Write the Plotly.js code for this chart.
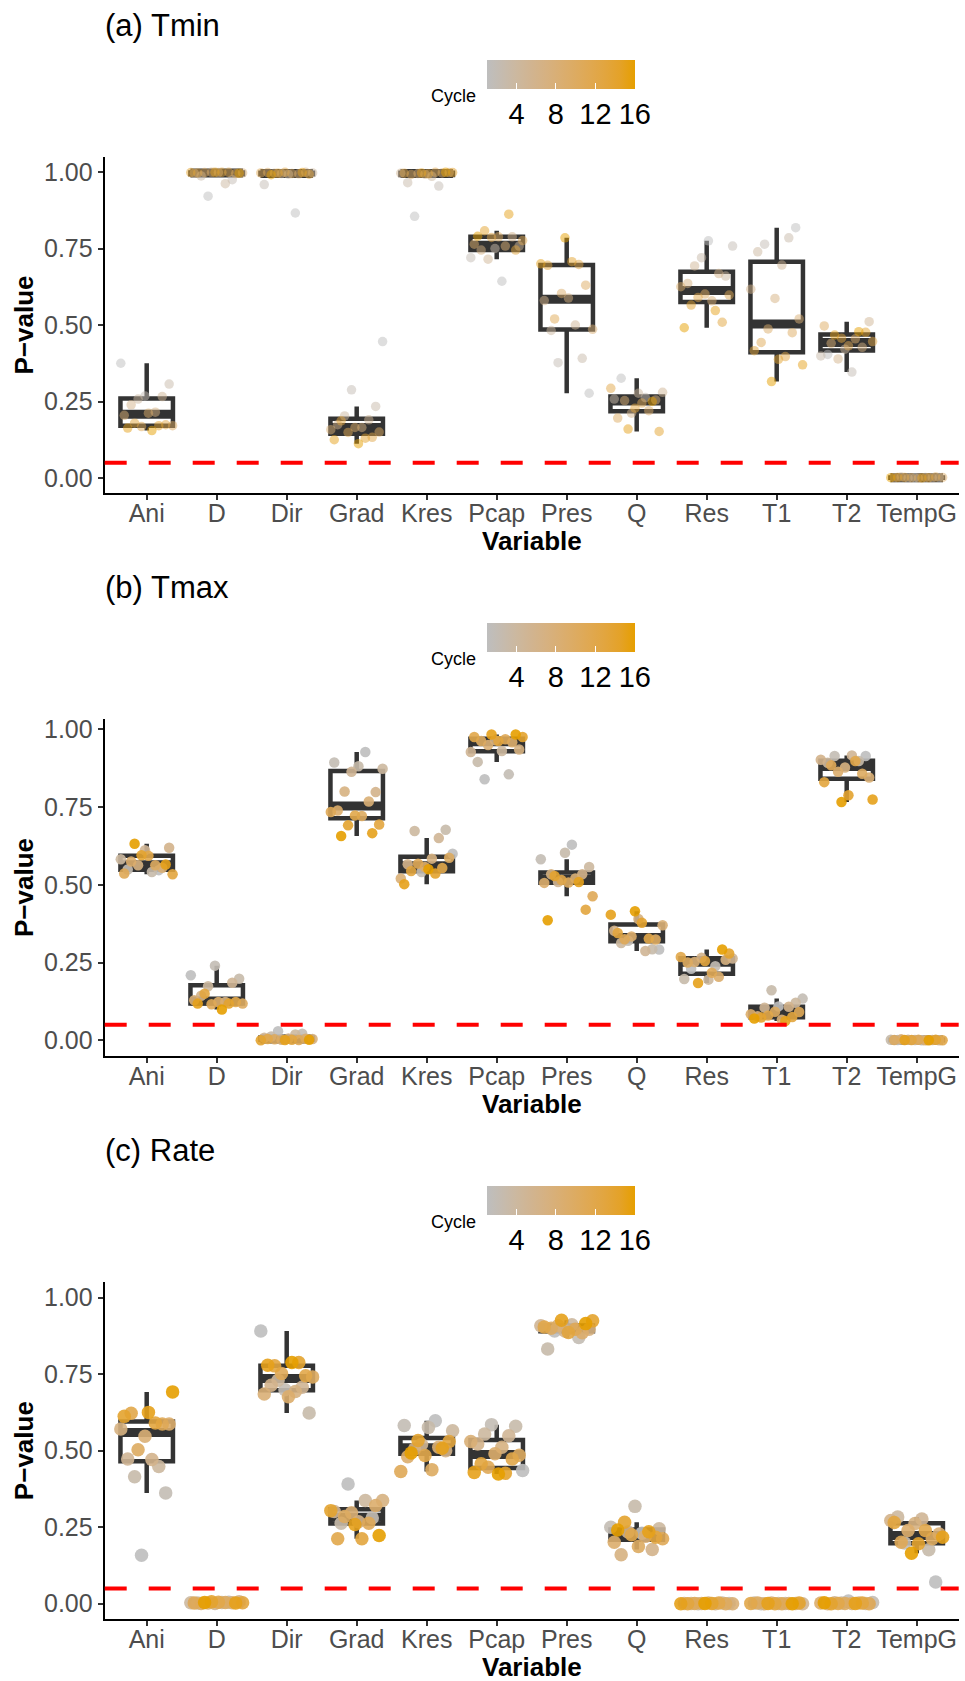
<!DOCTYPE html>
<html>
<head>
<meta charset="utf-8">
<script src="https://cdn.plot.ly/plotly-3.0.1.min.js"></script>
<style>
  html, body { margin: 0; padding: 0; background: #ffffff; }
  #chart { width: 965px; height: 1681px; }
</style>
</head>
<body>
<div id="chart"></div>
<script>
// Explanatory variables on the x axis
const variables = ['Ani', 'D', 'Dir', 'Grad', 'Kres', 'Pcap', 'Pres', 'Q', 'Res', 'T1', 'T2', 'TempG'];

// Cycle index of each sample (same order as the inner value lists)
const cycles = [1, 2, 3, 4, 5, 6, 7, 8, 9, 10, 11, 12, 13, 14, 15, 16];

// Colour-bar tick values
const cycleTicks = [4, 8, 12, 16];

// P-values for Tmin, one list of 16 cycles per variable
const tminPvalues = [
  [0.375, 0.268, 0.307, 0.258, 0.266, 0.239, 0.215, 0.205, 0.212, 0.171, 0.168, 0.174, 0.179, 0.171, 0.163, 0.155],
  [0.921, 0.975, 0.987, 0.962, 0.996, 0.998, 0.997, 0.999, 0.995, 0.998, 0.999, 0.997, 0.999, 0.998, 0.999, 0.996],
  [0.866, 0.959, 0.993, 0.997, 0.995, 0.999, 0.996, 0.994, 0.998, 0.995, 0.997, 0.999, 0.993, 0.996, 0.998, 0.991],
  [0.446, 0.288, 0.234, 0.203, 0.190, 0.174, 0.165, 0.158, 0.165, 0.150, 0.149, 0.133, 0.187, 0.130, 0.125, 0.112],
  [0.855, 0.954, 0.965, 0.986, 0.996, 0.993, 0.998, 0.995, 0.997, 0.992, 0.999, 0.996, 0.994, 0.998, 0.997, 0.999],
  [0.643, 0.720, 0.750, 0.758, 0.715, 0.788, 0.745, 0.758, 0.764, 0.788, 0.776, 0.786, 0.745, 0.808, 0.862, 0.790],
  [0.277, 0.377, 0.391, 0.482, 0.500, 0.580, 0.588, 0.486, 0.603, 0.630, 0.520, 0.698, 0.695, 0.707, 0.700, 0.785],
  [0.326, 0.263, 0.258, 0.277, 0.280, 0.212, 0.255, 0.253, 0.220, 0.196, 0.245, 0.293, 0.228, 0.152, 0.160, 0.250],
  [0.775, 0.758, 0.720, 0.660, 0.693, 0.668, 0.636, 0.579, 0.625, 0.601, 0.598, 0.590, 0.509, 0.565, 0.547, 0.491],
  [0.818, 0.764, 0.785, 0.739, 0.696, 0.617, 0.587, 0.520, 0.487, 0.475, 0.443, 0.397, 0.416, 0.388, 0.370, 0.315],
  [0.404, 0.346, 0.399, 0.421, 0.511, 0.389, 0.427, 0.440, 0.455, 0.497, 0.432, 0.446, 0.457, 0.476, 0.467, 0.478],
  [0.001, 0.002, 0.000, 0.001, 0.003, 0.002, 0.001, 0.000, 0.002, 0.001, 0.003, 0.002, 0.001, 0.002, 0.000, 0.001]
];

// P-values for Tmax
const tmaxPvalues = [
  [0.547, 0.549, 0.541, 0.582, 0.611, 0.619, 0.563, 0.555, 0.575, 0.563, 0.536, 0.593, 0.534, 0.595, 0.565, 0.632],
  [0.209, 0.240, 0.198, 0.174, 0.185, 0.143, 0.123, 0.129, 0.123, 0.118, 0.116, 0.123, 0.150, 0.118, 0.118, 0.099],
  [0.029, 0.021, 0.012, 0.019, 0.008, 0.006, 0.004, 0.002, 0.005, 0.003, 0.001, 0.004, 0.002, 0.000, 0.001, 0.002],
  [0.927, 0.893, 0.881, 0.873, 0.863, 0.798, 0.800, 0.768, 0.739, 0.721, 0.734, 0.723, 0.694, 0.691, 0.666, 0.657],
  [0.600, 0.541, 0.677, 0.673, 0.650, 0.566, 0.584, 0.520, 0.557, 0.587, 0.568, 0.554, 0.544, 0.536, 0.502, 0.550],
  [0.839, 0.855, 0.895, 0.930, 0.927, 0.965, 0.935, 0.949, 0.958, 0.962, 0.968, 0.975, 0.962, 0.975, 0.983, 0.983],
  [0.629, 0.582, 0.603, 0.557, 0.509, 0.534, 0.534, 0.520, 0.506, 0.507, 0.463, 0.515, 0.420, 0.528, 0.509, 0.386],
  [0.292, 0.320, 0.293, 0.313, 0.287, 0.352, 0.390, 0.370, 0.334, 0.324, 0.325, 0.327, 0.345, 0.378, 0.404, 0.415],
  [0.230, 0.238, 0.197, 0.195, 0.263, 0.265, 0.259, 0.252, 0.204, 0.250, 0.217, 0.268, 0.255, 0.279, 0.184, 0.292],
  [0.109, 0.134, 0.161, 0.121, 0.105, 0.108, 0.077, 0.066, 0.084, 0.092, 0.091, 0.080, 0.075, 0.073, 0.062, 0.070],
  [0.914, 0.914, 0.898, 0.892, 0.916, 0.902, 0.877, 0.845, 0.863, 0.857, 0.884, 0.898, 0.830, 0.788, 0.774, 0.766],
  [0.001, 0.000, 0.002, 0.001, 0.000, 0.002, 0.001, 0.003, 0.000, 0.001, 0.002, 0.000, 0.001, 0.002, 0.001, 0.000]
];

// P-values for Rate
const ratePvalues = [
  [0.158, 0.362, 0.415, 0.448, 0.473, 0.471, 0.571, 0.547, 0.587, 0.503, 0.587, 0.622, 0.590, 0.612, 0.625, 0.692],
  [0.005, 0.002, 0.004, 0.003, 0.001, 0.006, 0.002, 0.003, 0.001, 0.004, 0.002, 0.005, 0.003, 0.006, 0.002, 0.004],
  [0.891, 0.699, 0.623, 0.730, 0.707, 0.714, 0.693, 0.685, 0.676, 0.741, 0.752, 0.745, 0.777, 0.788, 0.779, 0.788],
  [0.391, 0.280, 0.263, 0.337, 0.301, 0.268, 0.337, 0.297, 0.321, 0.285, 0.263, 0.212, 0.212, 0.304, 0.259, 0.223],
  [0.598, 0.582, 0.576, 0.565, 0.520, 0.500, 0.505, 0.511, 0.480, 0.438, 0.432, 0.484, 0.530, 0.533, 0.508, 0.492],
  [0.435, 0.585, 0.580, 0.554, 0.549, 0.522, 0.511, 0.530, 0.490, 0.485, 0.446, 0.473, 0.457, 0.426, 0.429, 0.424],
  [0.891, 0.870, 0.832, 0.911, 0.908, 0.891, 0.897, 0.908, 0.885, 0.900, 0.897, 0.904, 0.886, 0.924, 0.926, 0.915],
  [0.230, 0.250, 0.318, 0.245, 0.234, 0.177, 0.160, 0.220, 0.201, 0.187, 0.212, 0.225, 0.217, 0.266, 0.235, 0.241],
  [0.001, 0.000, 0.002, 0.001, 0.000, 0.001, 0.002, 0.000, 0.001, 0.000, 0.001, 0.002, 0.000, 0.001, 0.000, 0.001],
  [0.000, 0.001, 0.002, 0.001, 0.000, 0.002, 0.001, 0.000, 0.001, 0.002, 0.000, 0.001, 0.000, 0.002, 0.001, 0.000],
  [0.009, 0.004, 0.002, 0.001, 0.003, 0.002, 0.000, 0.001, 0.002, 0.001, 0.000, 0.001, 0.002, 0.000, 0.001, 0.003],
  [0.071, 0.198, 0.176, 0.283, 0.277, 0.272, 0.262, 0.228, 0.239, 0.212, 0.201, 0.239, 0.265, 0.196, 0.217, 0.165]
];

// Significance threshold drawn as a dashed line
const alphaLevel = 0.05;

// ---------------------------------------------------------------------------
const W = 965, H = 1681;
const FONT = 'Liberation Sans, Arial, Helvetica, sans-serif';
const BOX_COLOR = '#333333';
const BOX_WIDTH = 0.75;
const px = v => v / W;
const py = v => 1 - v / H;

// grey -> orange gradient, interpolated in CIELAB
function hexToRgb(h) { return [1, 3, 5].map(i => parseInt(h.slice(i, i + 2), 16)); }
function toLin(c) { c /= 255; return c <= 0.04045 ? c / 12.92 : Math.pow((c + 0.055) / 1.055, 2.4); }
function fromLin(c) {
  const v = c <= 0.0031308 ? 12.92 * c : 1.055 * Math.pow(c, 1 / 2.4) - 0.055;
  return Math.round(Math.max(0, Math.min(1, v)) * 255);
}
function rgbToLab(rgb) {
  const [R, G, B] = rgb.map(toLin);
  const X = (0.4124 * R + 0.3576 * G + 0.1805 * B) / 0.95047;
  const Y = 0.2126 * R + 0.7152 * G + 0.0722 * B;
  const Z = (0.0193 * R + 0.1192 * G + 0.9505 * B) / 1.08883;
  const f = t => t > 0.008856 ? Math.cbrt(t) : 7.787 * t + 16 / 116;
  const fx = f(X), fy = f(Y), fz = f(Z);
  return [116 * fy - 16, 500 * (fx - fy), 200 * (fy - fz)];
}
function labToRgb(lab) {
  const [L, a, b] = lab;
  const fy = (L + 16) / 116, fx = fy + a / 500, fz = fy - b / 200;
  const finv = t => t * t * t > 0.008856 ? t * t * t : (t - 16 / 116) / 7.787;
  const X = finv(fx) * 0.95047, Y = finv(fy), Z = finv(fz) * 1.08883;
  const R = 3.2406 * X - 1.5372 * Y - 0.4986 * Z;
  const G = -0.9689 * X + 1.8758 * Y + 0.0415 * Z;
  const B = 0.0557 * X - 0.2040 * Y + 1.0570 * Z;
  return [fromLin(R), fromLin(G), fromLin(B)];
}
const lowLab = rgbToLab(hexToRgb('#BEBEBE'));
const highLab = rgbToLab(hexToRgb('#E69F00'));
const colorscale = [];
for (let i = 0; i <= 10; i++) {
  const t = i / 10;
  const lab = lowLab.map((v, k) => v + (highLab[k] - v) * t);
  const c = labToRgb(lab);
  colorscale.push([t, `rgb(${c[0]},${c[1]},${c[2]})`]);
}

// Tukey box statistics (type-7 quantiles, whiskers to last point within 1.5 IQR)
function quantile(sorted, p) {
  const h = (sorted.length - 1) * p;
  const lo = Math.floor(h);
  const hi = Math.min(lo + 1, sorted.length - 1);
  return sorted[lo] + (h - lo) * (sorted[hi] - sorted[lo]);
}
function boxStats(vals) {
  const s = vals.slice().sort((a, b) => a - b);
  const q1 = quantile(s, 0.25), med = quantile(s, 0.5), q3 = quantile(s, 0.75);
  const iqr = q3 - q1;
  const lo = s.filter(v => v >= q1 - 1.5 * iqr);
  const hi = s.filter(v => v <= q3 + 1.5 * iqr);
  return { q1, med, q3, lf: Math.min(lo[0], q1), uf: Math.max(hi[hi.length - 1], q3) };
}

// Spread of the points inside each category slot
function spread(k, c, p) {
  const idx = (k * 7 + c * 5 + p * 11) % 16;
  return (idx / 15 * 2 - 1) * 0.37;
}

const panels = [
  { title: '(a) Tmin', values: tminPvalues, top: 156.7, bottom: 493.3, yRange: [-0.05, 1.05], size: 9.5, alpha: 0.5 },
  { title: '(b) Tmax', values: tmaxPvalues, top: 719.3, bottom: 1055.7, yRange: [-0.0495, 1.032], size: 10.5, alpha: 0.9 },
  { title: '(c) Rate', values: ratePvalues, top: 1282.3, bottom: 1619, yRange: [-0.05, 1.05], size: 13.5, alpha: 0.9 }
];

const xLeft = 104.7, xRight = 958.7;
const positions = variables.map((_, i) => i + 1);

const traces = [];
const layout = {
  width: W, height: H, autosize: false,
  margin: { l: 0, r: 0, t: 0, b: 0, pad: 0 },
  paper_bgcolor: '#ffffff', plot_bgcolor: '#ffffff',
  font: { family: FONT, color: '#000000' },
  showlegend: false,
  annotations: [], shapes: []
};

panels.forEach((p, pi) => {
  const n = pi === 0 ? '' : String(pi + 1);
  const xa = 'x' + n, ya = 'y' + n;
  const shift = p.top - panels[0].top;

  const stats = p.values.map(boxStats);

  // boxes and whiskers
  traces.push({
    type: 'box', xaxis: xa, yaxis: ya,
    x: positions,
    q1: stats.map(s => s.q1), median: stats.map(s => s.med), q3: stats.map(s => s.q3),
    lowerfence: stats.map(s => s.lf), upperfence: stats.map(s => s.uf),
    width: BOX_WIDTH, whiskerwidth: 0, boxpoints: false,
    fillcolor: '#ffffff', line: { color: BOX_COLOR, width: 4.5 },
    hoverinfo: 'skip'
  });

  // heavier median bars
  const mx = [], my = [];
  stats.forEach((s, i) => {
    mx.push(positions[i] - BOX_WIDTH / 2, positions[i] + BOX_WIDTH / 2, null);
    my.push(s.med, s.med, null);
  });
  traces.push({
    type: 'scatter', mode: 'lines', xaxis: xa, yaxis: ya,
    x: mx, y: my, line: { color: BOX_COLOR, width: 9 }, hoverinfo: 'skip'
  });

  // individual cycles coloured by cycle number
  const px_ = [], py_ = [], pc = [];
  p.values.forEach((vals, c) => {
    vals.forEach((v, k) => {
      px_.push(positions[c] + spread(k, c, pi));
      py_.push(v);
      pc.push(cycles[k]);
    });
  });
  traces.push({
    type: 'scatter', mode: 'markers', xaxis: xa, yaxis: ya,
    x: px_, y: py_,
    marker: {
      size: p.size, color: pc, colorscale: colorscale, cmin: 1, cmax: 16,
      opacity: p.alpha, line: { width: 0 },
      showscale: true,
      colorbar: {
        orientation: 'h',
        x: px(560.85), xanchor: 'center',
        y: py(60 + shift), yanchor: 'top',
        len: 148.3, lenmode: 'pixels',
        thickness: 29.3, thicknessmode: 'pixels',
        xpad: 0, ypad: 0, outlinewidth: 0,
        tickmode: 'array', tickvals: cycleTicks, ticktext: cycleTicks.map(String),
        ticks: 'inside', ticklen: 6, tickwidth: 1, tickcolor: '#ffffff',
        tickfont: { size: 29, color: '#000000', family: FONT }
      }
    },
    hoverinfo: 'skip'
  });

  layout['xaxis' + n] = {
    domain: [px(xLeft), px(xRight)], anchor: ya,
    range: [0.4, 12.6], tickmode: 'array', tickvals: positions, ticktext: variables,
    showgrid: false, zeroline: false,
    showline: true, linecolor: '#000000', linewidth: 2,
    ticks: 'outside', ticklen: 5, tickwidth: 2, tickcolor: BOX_COLOR,
    ticklabelstandoff: -8,
    tickfont: { size: 25, color: '#4D4D4D', family: FONT },
    fixedrange: true
  };
  layout['yaxis' + n] = {
    domain: [py(p.bottom), py(p.top)], anchor: xa,
    range: p.yRange, tickmode: 'array', tickvals: [0, 0.25, 0.5, 0.75, 1],
    tickformat: '.2f',
    showgrid: false, zeroline: false,
    showline: true, linecolor: '#000000', linewidth: 2,
    ticks: 'outside', ticklen: 5, tickwidth: 2, tickcolor: BOX_COLOR,
    tickfont: { size: 25, color: '#4D4D4D', family: FONT },
    fixedrange: true
  };

  // threshold line
  layout.shapes.push({
    type: 'line', xref: xa + ' domain', yref: ya,
    x0: 0, x1: 1, y0: alphaLevel, y1: alphaLevel,
    line: { color: '#FF0000', width: 4, dash: '22px,22px' },
    layer: 'above'
  });

  // panel title
  layout.annotations.push({
    text: p.title, xref: 'paper', yref: 'paper',
    x: px(103), xanchor: 'left', y: py(25 + shift), yanchor: 'middle',
    showarrow: false, font: { size: 31, color: '#000000', family: FONT }
  });
  // colour-bar label
  layout.annotations.push({
    text: 'Cycle', xref: 'paper', yref: 'paper',
    x: px(478), xanchor: 'right', y: py(96 + shift), yanchor: 'middle',
    showarrow: false, font: { size: 18, color: '#000000', family: FONT }
  });
  // axis titles
  layout.annotations.push({
    text: 'P\u2212value', xref: 'paper', yref: 'paper', textangle: -90,
    x: px(23.5), xanchor: 'center', y: py((p.top + p.bottom) / 2), yanchor: 'middle',
    showarrow: false, font: { size: 26, color: '#000000', family: FONT, weight: 'bold' }
  });
  layout.annotations.push({
    text: 'Variable', xref: 'paper', yref: 'paper',
    x: px((xLeft + xRight) / 2), xanchor: 'center', y: py(541 + shift), yanchor: 'middle',
    showarrow: false, font: { size: 26, color: '#000000', family: FONT, weight: 'bold' }
  });
});

Plotly.newPlot('chart', traces, layout, { staticPlot: true, displayModeBar: false });
</script>
</body>
</html>
